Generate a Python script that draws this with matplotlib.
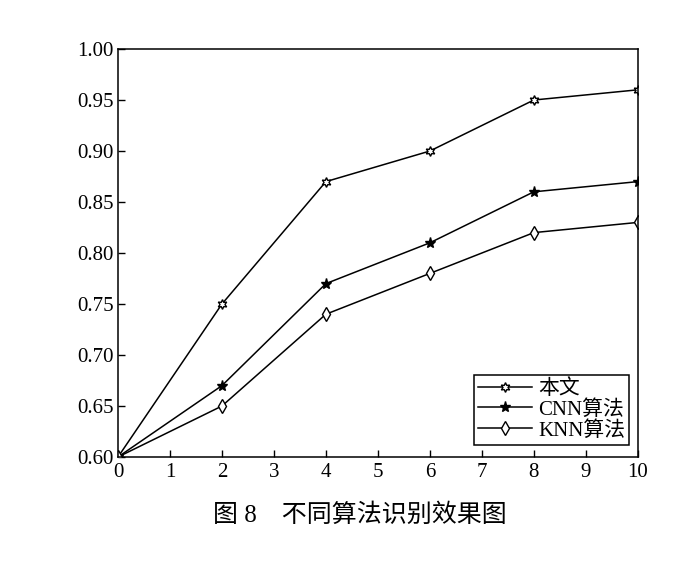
import matplotlib
matplotlib.use('Agg')
import matplotlib.pyplot as plt

# data
x = [0, 2, 4, 6, 8, 10]
ours = [0.60, 0.75, 0.87, 0.90, 0.95, 0.96]
cnn = [0.60, 0.67, 0.77, 0.81, 0.86, 0.87]
knn = [0.60, 0.65, 0.74, 0.78, 0.82, 0.83]
labels = ['本文', 'CNN算法', 'KNN算法']
xticks = list(range(0, 11))
yticks = [0.60, 0.65, 0.70, 0.75, 0.80, 0.85, 0.90, 0.95, 1.00]
caption = '图 8\u3000不同算法识别效果图'

fams = ['Liberation Serif', 'Noto Sans CJK SC']
plt.rcParams['font.family'] = fams
plt.rcParams['font.size'] = 15

fig = plt.figure(figsize=(6.94, 5.74), dpi=100)
ax = fig.add_axes([0.170, 0.2038, 0.749, 0.7108])

ax.plot(x, ours, color='black', lw=1.1, marker=(6, 1, 0), ms=7,
        mfc='white', mec='black', mew=1.0, label=labels[0])
ax.plot(x, cnn, color='black', lw=1.1, marker='*', ms=8,
        mfc='black', mec='black', label=labels[1])
ax.plot(x, knn, color='black', lw=1.1, marker='d', ms=7,
        mfc='white', mec='black', mew=1.0, label=labels[2])

ax.set_xlim(0, 10)
ax.set_ylim(0.60, 1.00)
ax.set_xticks(xticks)
ax.set_yticks(yticks)
ax.set_yticklabels(['%.2f' % v for v in yticks])
ax.tick_params(direction='in', length=5, width=1, pad=3, labelsize=15)
ax.tick_params(axis='x', pad=4)
for s in ax.spines.values():
    s.set_linewidth(1.1)

leg = ax.legend(loc='lower right', frameon=True, fancybox=False,
                edgecolor='black', framealpha=1, fontsize=15,
                handlelength=2.6, borderpad=0.2, labelspacing=0.05,
                handletextpad=0.3, borderaxespad=0.4,
                bbox_to_anchor=(1.0, 0.01))
leg.get_frame().set_linewidth(1.1)

fig.text(0.518, 0.103, caption, ha='center', va='center', fontsize=18,
         family=fams)

fig.savefig('out.png', dpi=100)
plt.close()
